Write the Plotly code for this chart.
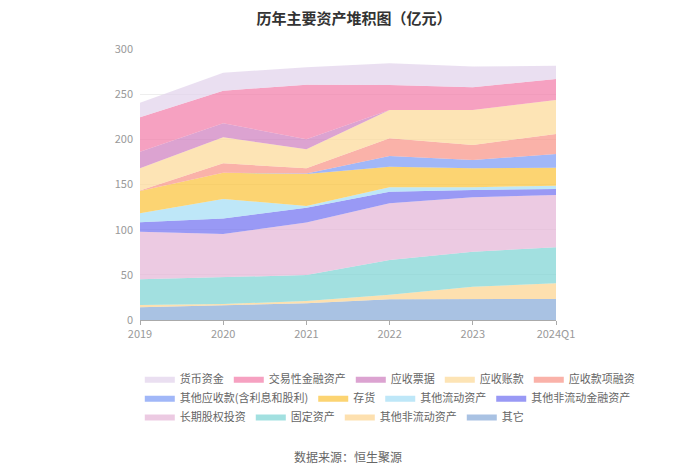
import plotly.graph_objects as go

# 历年主要资产 (亿元)
years = ["2019", "2020", "2021", "2022", "2023", "2024Q1"]

huobi = [16.2, 19.9, 19.5, 24.0, 22.9, 14.7]          # 货币资金
jiaoyixing = [38.1, 36.2, 60.2, 27.7, 25.1, 23.3]     # 交易性金融资产
piaoju = [18.3, 15.5, 11.1, 0, 0, 0]                  # 应收票据
zhangkuan = [24.7, 28.8, 20.9, 31.4, 38.8, 37.6]      # 应收账款
rongzi = [0.5, 10.3, 6.0, 19.5, 16.6, 22.1]           # 应收款项融资
qitayingshou = [0, 0, 0.5, 11.9, 9.1, 15.2]           # 其他应收款(含利息和股利)
cunhuo = [24.7, 29.1, 35.4, 22.8, 21.1, 19.9]         # 存货
qitaliudong = [10.0, 21.5, 1.8, 4.8, 3.0, 3.7]        # 其他流动资产
feiliudongjinrong = [10.3, 17.3, 16.6, 12.9, 8.1, 6.6]  # 其他非流动金融资产
guquan = [52.8, 48.0, 58.0, 62.8, 60.2, 58.0]         # 长期股权投资
guding = [28.4, 29.5, 28.8, 38.4, 38.7, 39.8]         # 固定资产
feiliudong = [2.6, 1.1, 2.5, 5.1, 13.7, 17.4]         # 其他非流动资产
qita = [14.0, 16.6, 18.5, 22.9, 23.2, 23.2]           # 其它

# legend order (top of stack first), colour, legend row
series = [
    ("货币资金", huobi, "#e2d3eb", "legend"),
    ("交易性金融资产", jiaoyixing, "#f37da9", "legend"),
    ("应收票据", piaoju, "#ce7fbf", "legend"),
    ("应收账款", zhangkuan, "#fcd998", "legend"),
    ("应收款项融资", rongzi, "#f89488", "legend"),
    ("其他应收款(含利息和股利)", qitayingshou, "#7d9bf5", "legend2"),
    ("存货", cunhuo, "#fbc43b", "legend2"),
    ("其他流动资产", qitaliudong, "#a5def5", "legend2"),
    ("其他非流动金融资产", feiliudongjinrong, "#7272f1", "legend2"),
    ("长期股权投资", guquan, "#e5b5d7", "legend3"),
    ("固定资产", guding, "#7ed4d4", "legend3"),
    ("其他非流动资产", feiliudong, "#fcd490", "legend3"),
    ("其它", qita, "#88aad8", "legend3"),
]


def rgba(hex_color, a):
    h = hex_color.lstrip("#")
    r, g, b = int(h[0:2], 16), int(h[2:4], 16), int(h[4:6], 16)
    return f"rgba({r},{g},{b},{a})"


fig = go.Figure()
# plotly stacks in trace order, so add from the bottom layer upward
for name, vals, color, leg in reversed(series):
    fig.add_trace(go.Scatter(
        x=years, y=vals, name=name, mode="lines",
        stackgroup="one", line=dict(width=0, color=color),
        fillcolor=rgba(color, 0.72), legend=leg,
        hoverinfo="x+y+name",
    ))

font = "Noto Sans CJK SC, Noto Sans, sans-serif"
leg_common = dict(orientation="h", x=-0.0005, xanchor="left", yanchor="top",
                  traceorder="reversed", font=dict(size=11, color="#666"),
                  itemwidth=30, bgcolor="rgba(0,0,0,0)")

# page body has an 8px margin, so the figure is sized to fit the window
fig.update_layout(
    width=692, height=466,
    margin=dict(l=132, r=144, t=41, b=154),
    paper_bgcolor="white", plot_bgcolor="white",
    font=dict(family=font, color="#999"),
    title=dict(text="<b>历年主要资产堆积图（亿元）</b>", x=0.5, xanchor="center",
               y=0.977, yanchor="middle", font=dict(size=15, color="#333")),
    legend=dict(y=-0.163, **leg_common),
    legend2=dict(y=-0.233, **leg_common),
    legend3=dict(y=-0.303, **leg_common),
    xaxis=dict(type="category", range=[0, 5], showgrid=False,
               showline=True, linecolor="#aaa", ticks="outside",
               ticklen=4, tickcolor="#aaa", tickfont=dict(size=11, color="#999")),
    yaxis=dict(range=[0, 300], dtick=50, showgrid=True, gridcolor="#eeeeee",
               zeroline=False, showline=False, tickfont=dict(size=11, color="#999"),
               ticklabelstandoff=6),
    annotations=[dict(text="数据来源：恒生聚源", x=0.5, y=-0.505, xref="paper",
                      yref="paper", xanchor="center", yanchor="middle",
                      showarrow=False, font=dict(size=12, color="#666"))],
)

fig.write_html("out.html")
